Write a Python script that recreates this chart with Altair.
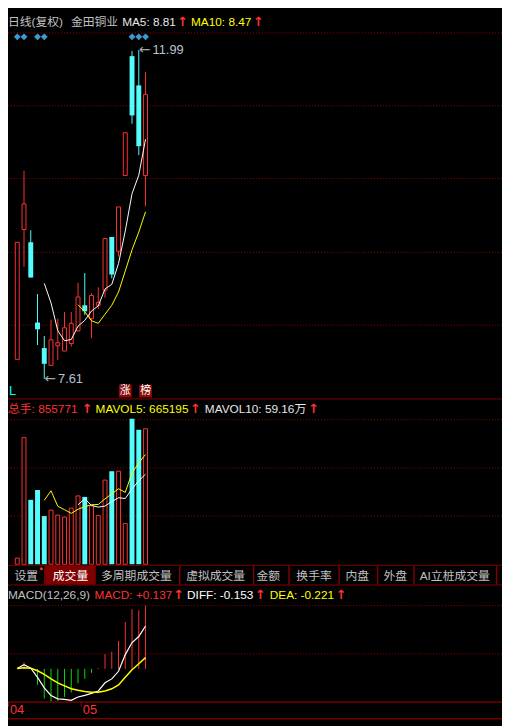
import altair as alt
import pandas as pd

# ---------------- data ----------------
days = list(range(20))
opens  = [7.87, 9.60, 9.43, 8.36, 8.02, 7.79, 8.05, 7.98, 8.08, 8.25, 8.59, 8.41, 8.59, 8.79, 9.50, 9.31, 10.32, 11.91, 11.52, 10.32]
highs  = [9.43, 10.38, 9.59, 8.74, 8.18, 8.40, 8.41, 8.50, 8.50, 8.89, 9.02, 8.75, 8.83, 9.48, 9.50, 9.90, 10.89, 11.98, 11.99, 11.70]
lows   = [7.87, 9.10, 8.96, 8.06, 7.61, 7.79, 7.86, 7.98, 8.04, 8.24, 8.46, 8.15, 8.54, 8.69, 8.95, 9.24, 10.32, 11.01, 10.59, 9.91]
closes = [9.43, 9.94, 8.96, 8.27, 7.81, 8.13, 8.09, 8.29, 8.35, 8.70, 8.51, 8.72, 8.63, 9.48, 9.00, 9.90, 10.89, 11.12, 10.71, 11.40]
ma5  = [None] * 4 + [8.882, 8.622, 8.252, 8.118, 8.134, 8.312, 8.388, 8.514, 8.582, 8.808,
                     8.868, 9.146, 9.580, 10.078, 10.324, 10.804]
ma10 = [None] * 9 + [8.597, 8.505, 8.383, 8.350, 8.471, 8.590, 8.767, 9.047, 9.330, 9.566, 9.836]

volume = [63000, 1287000, 655000, 755000, 490000, 550000, 500000, 480000, 570000, 695000,
          685000, 595204, 495000, 855771, 946000, 946000, 414000, 1480000, 1367000, 1377000]
mavol5 = [None] * 4 + [650000, 747400, 590000, 555000, 518000, 559000, 586000, 605041, 608041,
                       665195, 715395, 767595, 731354, 928354, 1030600, 1116800]
mavol10 = [None] * 9 + [604500, 666700, 597520, 581520, 591598, 637198, 676798, 668198,
                        768198, 847898, 916098]

diff = [0.003, 0.039, 0.006, -0.078, -0.175, -0.244, -0.275, -0.281, -0.289, -0.258,
        -0.244, -0.225, -0.203, -0.128, -0.092, -0.022, 0.131, 0.242, 0.297, 0.394]
dea  = [0.003, 0.011, 0.006, -0.017, -0.050, -0.092, -0.128, -0.156, -0.183, -0.197,
        -0.208, -0.214, -0.214, -0.203, -0.183, -0.147, -0.078, -0.008, 0.047, 0.103]
macd = [0.0, 0.061, 0.0, -0.147, -0.272, -0.300, -0.294, -0.258, -0.217, -0.133,
        -0.092, -0.036, 0.008, 0.136, 0.158, 0.256, 0.431, 0.547, 0.539, 0.581]

marker_days = [0, 1, 3, 4, 17, 18, 19]
tag_days = [16, 19]
tag_text = ["涨", "榜"]
tab_names = ["设置", "成交量", "多周期成交量", "虚拟成交量", "金额", "换手率", "内盘", "外盘", "AI立桩成交量"]
month_labels = ["04", "05"]

# ---------------- styling ----------------
W, H = 502, 718
RED = "#ff3232"
CYAN = "#54fcfc"
YEL = "#ffff00"
WHITE = "#ffffff"
GREEN = "#00e000"
GRID = "#a00000"
DKRED = "#800000"
GRAY = "#c0c0c0"
FONT = "Liberation Sans, Noto Sans CJK SC, sans-serif"
ARROWFONT = "DejaVu Sans"

df = pd.DataFrame({
    "i": days, "open": opens, "high": highs, "low": lows, "close": closes,
    "ma5": ma5, "ma10": ma10, "vol": volume, "mavol5": mavol5, "mavol10": mavol10,
    "diff": diff, "dea": dea, "macd": macd,
})
df["zero"] = 0
up = df[df["close"] >= df["open"]]
dn = df[df["close"] < df["open"]]
one = pd.DataFrame({"a": [0]})

xs = alt.Scale(domain=[-4.5 / 7, (W - 4.5) / 7], nice=False, zero=False)
ps = alt.Scale(domain=[7.348, 12.226], range=[391, 19], nice=False, zero=False)
vs = alt.Scale(domain=[0, 1480000], range=[559.5, 411.5], nice=False, zero=False)
ms = alt.Scale(domain=[-0.305, 0.581], range=[699.5, 601.5], nice=False, zero=False)


def X():
    return alt.X("i:Q", scale=xs, axis=None)


def hline(y, color, dash=None, x0=0, x1=W, width=1):
    kw = dict(color=color, strokeWidth=width)
    if dash:
        kw["strokeDash"] = dash
    return alt.Chart(one).mark_rule(**kw).encode(
        x=alt.value(x0), x2=alt.value(x1), y=alt.value(y))


def vline(x, y0, y1, color, width=1):
    return alt.Chart(one).mark_rule(color=color, strokeWidth=width).encode(
        x=alt.value(x), y=alt.value(y0), y2=alt.value(y1))


def label(txt, x, y, color, size=12, font=FONT, align="left", weight="normal"):
    return alt.Chart(one).mark_text(
        text=txt, align=align, baseline="middle", color=color, fontSize=size,
        font=font, fontWeight=weight).encode(x=alt.value(x), y=alt.value(y))


def arrow(x, y):
    return label("↑", x, y, RED, size=13, font=ARROWFONT, weight="bold")


layers = []

# ---- header ----
layers += [
    label("日线(复权)", 0, 8, GRAY),
    label("金田铜业", 64, 8, GRAY),
    label("MA5: 8.81", 116, 8, "#e8e8e8"),
    arrow(172, 8),
    label("MA10: 8.47", 186, 8, YEL),
    arrow(249, 8),
]

# ---- price pane ----
layers.append(hline(19.5, GRID, [1, 2]))
for gy in [93.5, 167.5, 242.5, 316.5]:
    layers.append(hline(gy, GRID, [1, 2]))

mk = pd.DataFrame({"i": marker_days})
layers.append(alt.Chart(mk).mark_point(shape="diamond", filled=True, size=49, color="#3a9ad2", opacity=1).encode(
    x=X(), y=alt.value(23.5)))

layers.append(alt.Chart(up).mark_rule(color=RED, strokeWidth=1).encode(
    x=X(), y=alt.Y("low:Q", scale=ps, axis=None), y2="high:Q"))
layers.append(alt.Chart(dn).mark_rule(color=CYAN, strokeWidth=1).encode(
    x=X(), y=alt.Y("low:Q", scale=ps, axis=None), y2="high:Q"))
layers.append(alt.Chart(up).mark_bar(size=4, fill="black", stroke=RED, strokeWidth=1).encode(
    x=X(), y=alt.Y("open:Q", scale=ps, axis=None), y2="close:Q"))
layers.append(alt.Chart(dn).mark_bar(size=5, fill=CYAN, strokeWidth=0).encode(
    x=X(), y=alt.Y("open:Q", scale=ps, axis=None), y2="close:Q"))

layers.append(alt.Chart(df).mark_line(color=WHITE, strokeWidth=1).encode(
    x=X(), y=alt.Y("ma5:Q", scale=ps, axis=None)))
layers.append(alt.Chart(df).mark_line(color=YEL, strokeWidth=1).encode(
    x=X(), y=alt.Y("ma10:Q", scale=ps, axis=None)))

# max / min annotations
hi_row = df.loc[[df["high"].idxmax()]]
lo_row = df.loc[[df["low"].idxmin()]]
for row, field, txt in [(hi_row, "high", "11.99"), (lo_row, "low", "7.61")]:
    layers.append(alt.Chart(row).mark_text(text="←", align="left", baseline="middle", dx=0,
                                           color="#a8a8a8", fontSize=14, font=ARROWFONT).encode(
        x=X(), y=alt.Y(f"{field}:Q", scale=ps, axis=None)))
    layers.append(alt.Chart(row).mark_text(text=txt, align="left", baseline="middle", dx=14,
                                           color="#b8c4d0", fontSize=13, font=FONT).encode(
        x=X(), y=alt.Y(f"{field}:Q", scale=ps, axis=None)))

layers.append(label("L", 1, 383, "#00ffff", size=13))
tg = pd.DataFrame({"i": tag_days, "t": tag_text})
layers.append(alt.Chart(tg).mark_square(size=169, color="#8b0a0a", opacity=1).encode(
    x=X(), y=alt.value(383.5)))
layers.append(alt.Chart(tg).mark_text(color=WHITE, fontSize=11, font=FONT, baseline="middle").encode(
    x=X(), y=alt.value(383.5), text="t:N"))

layers.append(hline(391.5, DKRED))

# ---- volume pane ----
layers += [
    label("总手: 855771", 0, 401.5, RED),
    arrow(75, 401.5),
    label("MAVOL5: 665195", 89, 401.5, YEL),
    arrow(185, 401.5),
    label("MAVOL10: 59.16万", 200, 401.5, "#e8e8e8"),
    arrow(305, 401.5),
]
for gy in [412.5, 461.5, 510.5]:
    layers.append(hline(gy, GRID, [1, 2]))

layers.append(alt.Chart(up).mark_bar(orient="vertical", size=4, fill="black", stroke=RED, strokeWidth=1).encode(
    x=X(), y=alt.Y("vol:Q", scale=vs, axis=None), y2="zero:Q"))
layers.append(alt.Chart(dn).mark_bar(orient="vertical", size=5, fill=CYAN, strokeWidth=0).encode(
    x=X(), y=alt.Y("vol:Q", scale=vs, axis=None), y2="zero:Q"))
layers.append(alt.Chart(df).mark_line(color=YEL, strokeWidth=1).encode(
    x=X(), y=alt.Y("mavol5:Q", scale=vs, axis=None)))
layers.append(alt.Chart(df).mark_line(color=WHITE, strokeWidth=1).encode(
    x=X(), y=alt.Y("mavol10:Q", scale=vs, axis=None)))

# ---- tab bar ----
layers.append(hline(560.5, DKRED))
layers.append(alt.Chart(one).mark_rect(color=DKRED).encode(
    x=alt.value(38), x2=alt.value(88), y=alt.value(561), y2=alt.value(580)))
for sx in [37.5, 88.5, 174.5, 249.5, 285.5, 336.5, 375.5, 412.5, 496.5]:
    layers.append(vline(sx, 561, 580, DKRED, width=1.5))
layers.append(hline(580.5, DKRED))
tab_centers = [18.5, 63.5, 130.5, 211, 264.5, 311, 355, 393.5, 454]
for name, cx in zip(tab_names, tab_centers):
    layers.append(label(name, cx, 571, WHITE if name == "成交量" else GRAY, size=12, align="center"))
layers.append(alt.Chart(one).mark_point(shape="circle", filled=True, size=10, color=RED, opacity=1).encode(
    x=alt.value(34), y=alt.value(564)))

# ---- MACD pane ----
layers += [
    label("MACD(12,26,9)", 0, 590.5, GRAY),
    label("MACD: +0.137", 88, 590.5, RED),
    arrow(168, 590.5),
    label("DIFF: -0.153", 182, 590.5, WHITE),
    arrow(251, 590.5),
    label("DEA: -0.221", 266, 590.5, YEL),
    arrow(333, 590.5),
]
layers.append(hline(601.5, GRID, [1, 2]))
layers.append(hline(650.5, GRID, [1, 2]))

pos = df[df["macd"] > 0]
neg = df[df["macd"] < 0]
layers.append(alt.Chart(pos).mark_rule(color=RED, strokeWidth=1).encode(
    x=X(), y=alt.Y("macd:Q", scale=ms, axis=None), y2="zero:Q"))
layers.append(alt.Chart(neg).mark_rule(color=GREEN, strokeWidth=1).encode(
    x=X(), y=alt.Y("macd:Q", scale=ms, axis=None), y2="zero:Q"))
layers.append(alt.Chart(df).mark_line(color=WHITE, strokeWidth=1.2).encode(
    x=X(), y=alt.Y("diff:Q", scale=ms, axis=None)))
layers.append(alt.Chart(df).mark_line(color=YEL, strokeWidth=1.5).encode(
    x=X(), y=alt.Y("dea:Q", scale=ms, axis=None)))

# ---- date axis ----
layers.append(hline(699.5, "#b00000"))
layers.append(vline(0.5, 699.5, 704, "#b00000"))
layers.append(vline(74.5, 699.5, 704, "#b00000"))
layers.append(label(month_labels[0], 2, 708, RED, size=13))
layers.append(label(month_labels[1], 76, 708, RED, size=13))
layers.append(hline(716.5, "#b00000"))

chart = alt.layer(*layers).resolve_scale(y="independent").properties(
    width=W, height=H, background="black", padding=0,
    autosize=alt.AutoSizeParams(type="none"),
).configure_view(strokeWidth=0)

chart.save("out.html", embed_options={"renderer": "svg", "actions": False})
